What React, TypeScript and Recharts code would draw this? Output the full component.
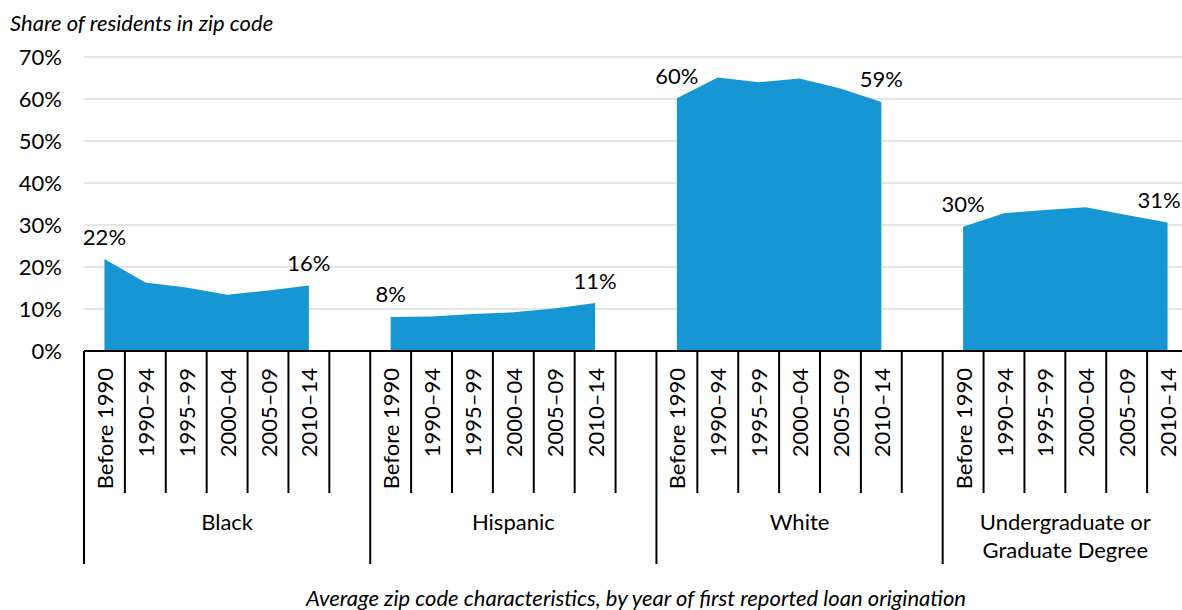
import { Area, AreaChart, CartesianGrid, LabelList, XAxis, YAxis } from 'recharts'

const periods = ['Before 1990', '1990–94', '1995–99', '2000–04', '2005–09', '2010–14']
const groupKeys = ['black', 'hispanic', 'white', 'degree']
const groupLabels = ['Black', 'Hispanic', 'White', 'Undergraduate or\nGraduate Degree']

// share of residents in zip code, percent
const blackValues = [21.9, 16.3, 15.1, 13.4, 14.4, 15.6]
const hispanicValues = [8.1, 8.2, 8.8, 9.2, 10.1, 11.4]
const whiteValues = [60.2, 65.1, 64.0, 64.9, 62.5, 59.3]
const degreeValues = [29.6, 32.8, 33.6, 34.2, 32.4, 30.6]

const yTicks = [0, 10, 20, 30, 40, 50, 60, 70]

const seriesValues = [blackValues, hispanicValues, whiteValues, degreeValues]

// each group takes 6 bands plus one empty band after it (last group has none)
const groupSpans = [7, 7, 7, 6]
const groupStarts = groupSpans.map((_, i) => groupSpans.slice(0, i).reduce((a, b) => a + b, 0))
const totalBands = groupSpans.reduce((a, b) => a + b, 0)

type Row = { x: number; period: string; [key: string]: number | string }

const rows: Row[] = []
groupKeys.forEach((key, g) => {
  seriesValues[g].forEach((v, p) => {
    rows.push({ x: groupStarts[g] + p + 0.5, period: periods[p], [key]: v })
  })
})

const edgeTicks = Array.from({ length: totalBands + 1 }, (_, i) => i)
const categoryTicks = [...edgeTicks, ...rows.map((r) => r.x)].sort((a, b) => a - b)
const groupCenters = groupStarts.map((s, i) => s + groupSpans[i] / 2)

const BLUE = '#1696d2'
const FONT = 'Lato, "Open Sans", sans-serif'
const FS = 22
const VISIBLE_W = 1182
const VISIBLE_H = 610

function CategoryTick(props: any) {
  const { x, y, payload } = props
  const v = payload.value as number
  if (Number.isInteger(v)) {
    const long = groupStarts.includes(v)
    return <line x1={x} x2={x} y1={y} y2={y + (long ? 213 : 142)} stroke="#000" strokeWidth={2} />
  }
  const row = rows.find((r) => r.x === v)
  const ty = y + 17
  return (
    <text
      x={x}
      y={ty}
      transform={`rotate(-90 ${x} ${ty})`}
      textAnchor="end"
      dominantBaseline="central"
      fontSize={FS}
      fill="#000"
    >
      {row?.period}
    </text>
  )
}

function GroupTick(props: any) {
  const { x, y, index } = props
  const lines = groupLabels[index].split('\n')
  return (
    <text x={x} y={y} textAnchor="middle" fontSize={FS} fill="#000">
      {lines.map((line, i) => (
        <tspan key={line} x={x} dy={i === 0 ? 37 : 28}>
          {line}
        </tspan>
      ))}
    </text>
  )
}

function EndLabel(props: any) {
  const { x, y, value, index } = props
  const p = rows[index]?.period
  if (value == null || (p !== periods[0] && p !== periods[periods.length - 1])) return null
  // keep the label inside the visible area
  const cx = Math.min(x, VISIBLE_W - 23)
  return (
    <text x={cx} y={y - 23} textAnchor="middle" dominantBaseline="central" fontSize={FS} fill="#000">
      {`${Math.round(value)}%`}
    </text>
  )
}

export default function App() {
  return (
    <div
      style={{
        position: 'absolute',
        left: 0,
        top: 0,
        width: VISIBLE_W,
        height: VISIBLE_H,
        overflow: 'hidden',
        fontFamily: FONT,
      }}
    >
      <AreaChart width={1188} height={VISIBLE_H} data={rows} margin={{ top: 57, right: 0, bottom: 0, left: 0 }}>
        <CartesianGrid vertical={false} stroke="#dcdcdc" strokeWidth={1.5} />
        <YAxis
          type="number"
          domain={[0, 70]}
          ticks={yTicks}
          width={84}
          axisLine={false}
          tickLine={false}
          tickSize={0}
          tickMargin={22}
          tickFormatter={(v) => `${v}%`}
          tick={{ fontSize: FS, fill: '#000' }}
          label={{
            content: () => (
              <text x={10} y={22} dominantBaseline="central" fontSize={FS} fontStyle="italic" fill="#000">
                Share of residents in zip code
              </text>
            ),
          }}
        />
        <XAxis
          type="number"
          dataKey="x"
          domain={[0, totalBands]}
          ticks={categoryTicks}
          interval={0}
          height={142}
          axisLine={{ stroke: '#000', strokeWidth: 2 }}
          tickLine={false}
          tickSize={0}
          tickMargin={0}
          tick={<CategoryTick />}
        />
        <XAxis
          xAxisId="group"
          type="number"
          dataKey="x"
          domain={[0, totalBands]}
          ticks={groupCenters}
          interval={0}
          height={117}
          axisLine={false}
          tickLine={false}
          tickSize={0}
          tickMargin={0}
          tick={<GroupTick />}
          label={{
            value: 'Average zip code characteristics, by year of first reported loan origination',
            position: 'insideBottom',
            offset: 4,
            fontSize: FS,
            fontStyle: 'italic',
            fill: '#000',
          }}
        />
        {groupKeys.map((key) => (
          <Area
            key={key}
            dataKey={key}
            type="linear"
            stroke="none"
            fill={BLUE}
            fillOpacity={1}
            dot={false}
            activeDot={false}
            isAnimationActive={false}
          >
            <LabelList dataKey={key} content={<EndLabel />} />
          </Area>
        ))}
      </AreaChart>
    </div>
  )
}
